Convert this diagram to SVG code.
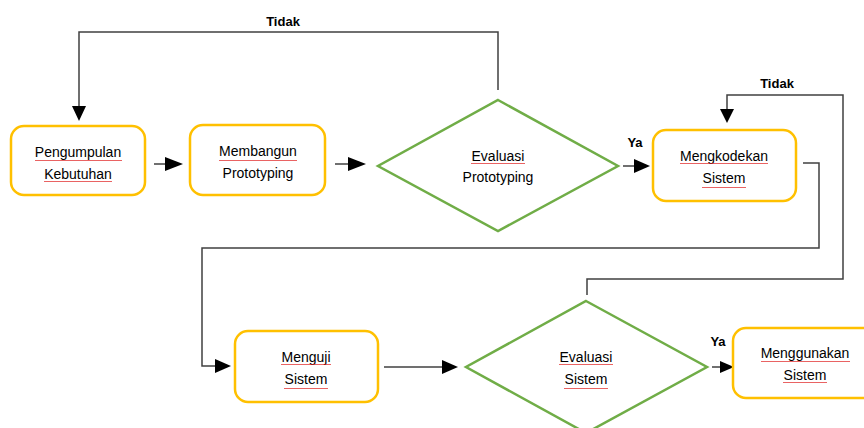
<svg xmlns="http://www.w3.org/2000/svg" width="864" height="428" viewBox="0 0 864 428">
<defs>
<style>
.box{fill:#fff;stroke:#FFC000;stroke-width:2.5}
.dia{fill:#fff;stroke:#70AD47;stroke-width:2.5}
.ln{fill:none;stroke:#404040;stroke-width:1.5}
.t{font-family:"Liberation Sans",Arial,sans-serif;font-size:14px;fill:#000;text-anchor:middle}
.lb{font-family:"Liberation Sans",Arial,sans-serif;font-size:13px;font-weight:bold;fill:#000;text-anchor:middle}
.sq{fill:url(#wave)}
</style>
<pattern id="wave" width="4" height="3" patternUnits="userSpaceOnUse">
<path d="M0,2 L1,1 L2,2 L3,1 L4,2" fill="none" stroke="#E02020" stroke-width="0.7"/>
</pattern>
</defs>
<rect width="864" height="428" fill="#fff"/>
<g id="connectors">
<path class="ln" d="M154,164 H167"/>
<path d="M165,157 L183,164 L165,171 Z" fill="#000"/>
<path class="ln" d="M335,164 H350"/>
<path d="M348,157 L366,164 L348,171 Z" fill="#000"/>
<path class="ln" d="M498,90 V32 H79 V108"/>
<path d="M72,106 L79,121 L86,106 Z" fill="#000"/>
<path class="ln" d="M623,166 H636"/>
<path d="M634,159 L650,166 L634,173 Z" fill="#000"/>
<path class="ln" d="M587,295 V279 H843 V95 H727 V110"/>
<path d="M720,109 L727,123 L734,109 Z" fill="#000"/>
<path class="ln" d="M803,163 H819 V248 H202 V366 H216"/>
<path d="M215,359 L231,366 L215,373 Z" fill="#000"/>
<path class="ln" d="M384,367 H444"/>
<path d="M442,360 L458,367 L442,374 Z" fill="#000"/>
<path class="ln" d="M712,367 H722"/>
<path d="M720,361 L734,367 L720,373 Z" fill="#000"/>
<text class="lb" x="283" y="26">Tidak</text>
<text class="lb" x="777" y="88">Tidak</text>
<text class="lb" x="635" y="147" fill="#1a1a3a">Ya</text>
<text class="lb" x="718" y="346" fill="#1a1a3a">Ya</text>
</g>
<g id="n1">
<rect class="box" x="11" y="126" width="134" height="69" rx="13"/>
<text class="t" x="78" y="157">Pengumpulan</text>
<text class="t" x="78" y="179">Kebutuhan</text>
<rect class="sq" x="35" y="159" width="87" height="3"/>
<rect class="sq" x="44" y="181" width="68" height="3"/>
</g>
<g id="n2">
<rect class="box" x="190" y="125" width="135" height="70" rx="13"/>
<text class="t" x="258" y="156">Membangun</text>
<text class="t" x="258" y="178">Prototyping</text>
<rect class="sq" x="219" y="158" width="78" height="3"/>
</g>
<g id="n3">
<polygon class="dia" points="498,100 618,166 498,231 378,166"/>
<text class="t" x="498" y="161">Evaluasi</text>
<text class="t" x="498" y="182">Prototyping</text>
<rect class="sq" x="471" y="163" width="54" height="3"/>
</g>
<g id="n4">
<rect class="box" x="653" y="130" width="143" height="71" rx="13"/>
<text class="t" x="724" y="161">Mengkodekan</text>
<text class="t" x="724" y="183">Sistem</text>
<rect class="sq" x="680" y="163" width="88" height="3"/>
<rect class="sq" x="702" y="185" width="44" height="3"/>
</g>
<g id="n5">
<rect class="box" x="235" y="331" width="143" height="71" rx="13"/>
<text class="t" x="306" y="362">Menguji</text>
<text class="t" x="306" y="384">Sistem</text>
<rect class="sq" x="281" y="364" width="50" height="3"/>
<rect class="sq" x="284" y="386" width="44" height="3"/>
</g>
<g id="n6">
<polygon class="dia" points="586,301 707,367 586,433 466,367"/>
<text class="t" x="586" y="362">Evaluasi</text>
<text class="t" x="586" y="384">Sistem</text>
<rect class="sq" x="559" y="364" width="54" height="3"/>
<rect class="sq" x="564" y="386" width="44" height="3"/>
</g>
<g id="n7">
<rect class="box" x="733" y="328" width="145" height="70" rx="13"/>
<text class="t" x="805" y="358">Menggunakan</text>
<text class="t" x="805" y="380">Sistem</text>
<rect class="sq" x="761" y="360" width="89" height="3"/>
<rect class="sq" x="783" y="382" width="44" height="3"/>
</g>
</svg>
